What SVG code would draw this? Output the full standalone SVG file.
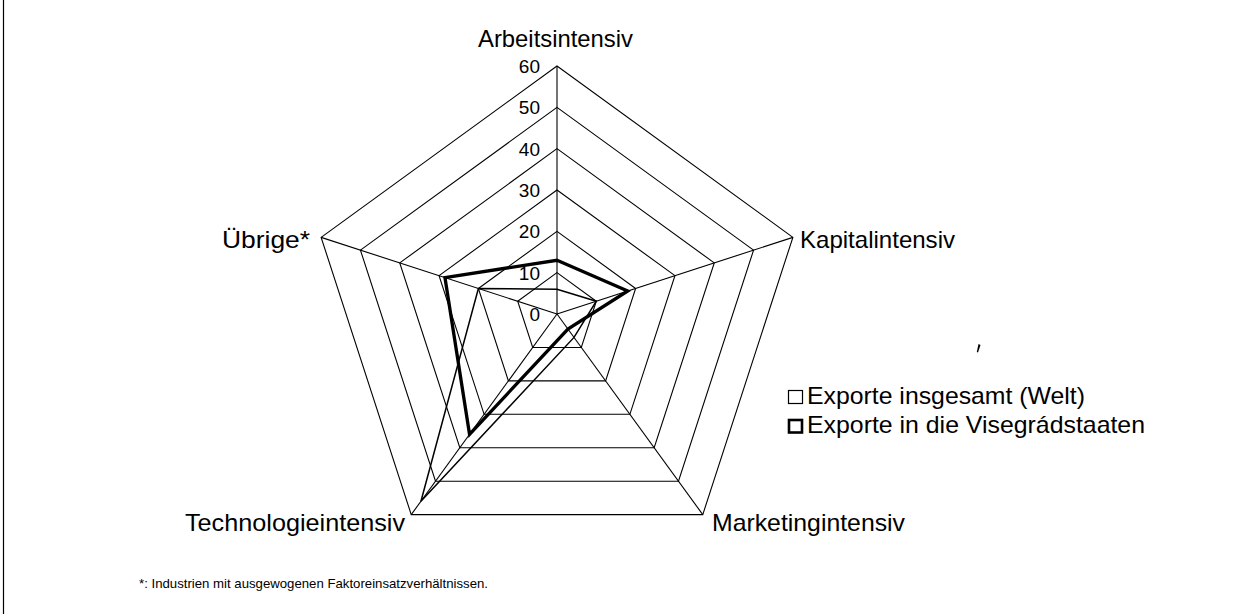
<svg xmlns="http://www.w3.org/2000/svg" width="1244" height="614" viewBox="0 0 1244 614">
<style>
.ring{fill:none;stroke:#000;stroke-width:1.1}
.spoke{stroke:#000;stroke-width:1.1}
.s1{fill:none;stroke:#000;stroke-width:1.5;stroke-linejoin:miter}
.s2{fill:none;stroke:#000;stroke-width:3.3;stroke-linejoin:miter}
.lbl{font-family:"Liberation Sans",Arial,sans-serif;font-size:24px;fill:#000}
.tick{font-family:"Liberation Sans",Arial,sans-serif;font-size:19px;fill:#000;text-anchor:end}
.note{font-family:"Liberation Sans",Arial,sans-serif;font-size:13px;fill:#000}
</style>
<rect width="1244" height="614" fill="#fff"/>
<line x1="3.5" y1="0" x2="3.5" y2="614" stroke="#000" stroke-width="1.2"/>
<g id="grid">
<polygon class="ring" points="557,66 792.87,237.37 702.77,514.63 411.23,514.63 321.13,237.37"/>
<polygon class="ring" points="557,107.33 753.56,250.14 678.48,481.19 435.52,481.19 360.44,250.14"/>
<polygon class="ring" points="557,148.67 714.25,262.91 654.18,447.75 459.82,447.75 399.75,262.91"/>
<polygon class="ring" points="557,190 674.94,275.68 629.89,414.32 484.11,414.32 439.06,275.68"/>
<polygon class="ring" points="557,231.33 635.62,288.46 605.59,380.88 508.41,380.88 478.38,288.46"/>
<polygon class="ring" points="557,272.67 596.31,301.23 581.3,347.44 532.7,347.44 517.69,301.23"/>
<line class="spoke" x1="557" y1="314" x2="557" y2="66"/>
<line class="spoke" x1="557" y1="314" x2="792.87" y2="237.37"/>
<line class="spoke" x1="557" y1="314" x2="702.77" y2="514.63"/>
<line class="spoke" x1="557" y1="314" x2="411.23" y2="514.63"/>
<line class="spoke" x1="557" y1="314" x2="321.13" y2="237.37"/>
</g>
<g id="ticks">
<text class="tick" x="540" y="73">60</text>
<text class="tick" x="540" y="114">50</text>
<text class="tick" x="540" y="155.5">40</text>
<text class="tick" x="540" y="197">30</text>
<text class="tick" x="540" y="238">20</text>
<text class="tick" x="540" y="279.5">10</text>
<text class="tick" x="540" y="321">0</text>
</g>
<g id="series">
<polygon id="series-welt" class="s1" points="557,289.2 596.31,301.23 574,337.4 420.94,501.26 478.38,288.46"/>
<polygon id="series-visegrad" class="s2" points="557,260.27 627.76,291.01 567.93,329.05 469.54,434.38 444.96,277.6"/>
</g>
<g id="axis-arbeitsintensiv"><text class="lbl" x="478" y="47" textLength="155" lengthAdjust="spacingAndGlyphs">Arbeitsintensiv</text></g>
<g id="axis-kapitalintensiv"><text class="lbl" x="800" y="248" textLength="155" lengthAdjust="spacingAndGlyphs">Kapitalintensiv</text></g>
<g id="axis-marketingintensiv"><text class="lbl" x="712" y="531" textLength="193" lengthAdjust="spacingAndGlyphs">Marketingintensiv</text></g>
<g id="axis-technologieintensiv"><text class="lbl" x="185" y="531" textLength="220" lengthAdjust="spacingAndGlyphs">Technologieintensiv</text></g>
<g id="axis-uebrige"><text class="lbl" x="222" y="248" textLength="88" lengthAdjust="spacingAndGlyphs">Übrige*</text></g>
<g id="legend">
<rect x="788.5" y="390.5" width="14" height="13" fill="#fff" stroke="#000" stroke-width="1.2"/>
<text class="lbl" x="807" y="404" textLength="278" lengthAdjust="spacingAndGlyphs">Exporte insgesamt (Welt)</text>
<rect x="789" y="420" width="13" height="12.5" fill="#fff" stroke="#000" stroke-width="2.6"/>
<text class="lbl" x="807" y="433" textLength="338" lengthAdjust="spacingAndGlyphs">Exporte in die Visegrádstaaten</text>
</g>
<path d="M978.5,344 L980.5,345 L978,352.5 L976.8,352 Z" fill="#000"/>
<g id="footnote"><text class="note" x="139" y="588" textLength="349" lengthAdjust="spacingAndGlyphs">*: Industrien mit ausgewogenen Faktoreinsatzverhältnissen.</text></g>
</svg>
